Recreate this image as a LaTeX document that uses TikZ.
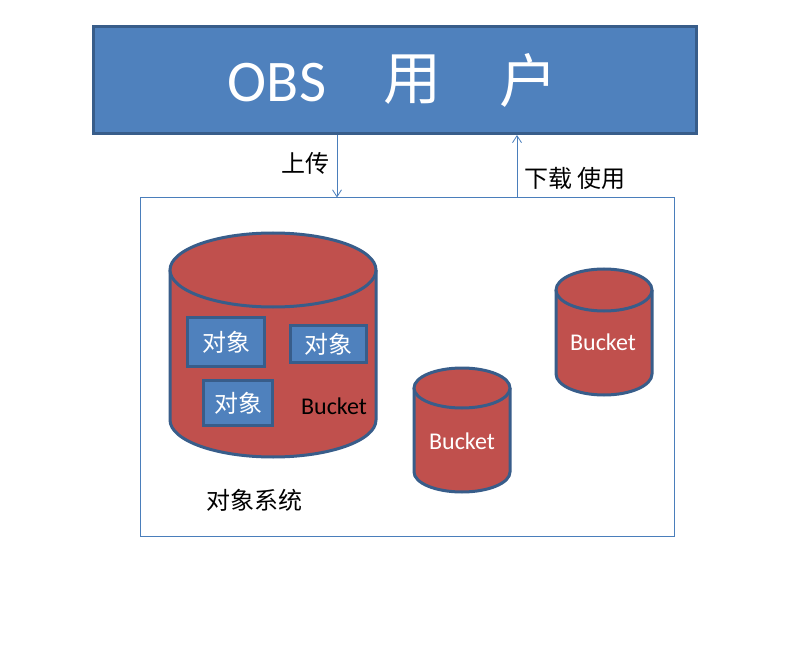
\documentclass[tikz,border=0pt]{standalone}
\usepackage{fontspec}
\setmainfont{Carlito}
\newfontfamily\cjk{Noto Sans CJK SC}
\usetikzlibrary{arrows.meta}
\definecolor{bluefill}{HTML}{4F81BD}
\definecolor{blueedge}{HTML}{385D8A}
\definecolor{redfill}{HTML}{C0504D}
\definecolor{arrowblue}{HTML}{4A7EBB}
\tikzset{
  titlebox/.style={draw=blueedge, fill=bluefill, line width=3pt, minimum width=603pt, minimum height=107pt, inner sep=0pt},
  sysbox/.style={draw=arrowblue, line width=1pt, minimum width=534pt, minimum height=338pt, inner sep=0pt},
  objbox/.style={draw=blueedge, fill=bluefill, line width=3pt, inner sep=0pt, text=white, font=\cjk\fontsize{24}{26}\selectfont},
  titletext/.style={text=white, inner sep=0pt},
  lbl/.style={inner sep=0pt, font=\cjk\fontsize{24}{26}\selectfont},
  bucket/.style={inner sep=0pt, font=\fontsize{24}{26}\selectfont},
  cyl/.style={draw=blueedge, fill=redfill, line width=3pt},
  flow/.style={draw=arrowblue, line width=0.8pt, -{Straight Barb[length=7pt,width=9pt]}}
}
\newcommand{\cylinder}[5]{% cx, rx, ytop, ybot, ry
  \filldraw[cyl] (#1-#2,#3) -- (#1-#2,#4) arc[start angle=180, end angle=360, x radius=#2pt, y radius=#5pt] -- (#1+#2,#3);
  \filldraw[cyl] (#1,#3) ellipse [x radius=#2pt, y radius=#5pt];
}
\begin{document}
\begin{tikzpicture}[x=1pt, y=-1pt]
\useasboundingbox (0,0) rectangle (806,655);
\fill[white] (0,0) rectangle (806,655);

\node[titlebox] (title) at (395,80) {};
\node[titletext, font=\fontsize{59}{60}\selectfont] (obs) at (277,83) {OBS};
\node[titletext, font=\cjk\fontsize{58}{60}\selectfont] (yong) at (412,80) {用};
\node[titletext, font=\cjk\fontsize{58}{60}\selectfont] (hu) at (528,80) {户};

\node[sysbox] (sys) at (407,367) {};

\coordinate (up) at (337,0);
\coordinate (down) at (517,0);
\draw[flow] (title.south -| up) -- (sys.north -| up);
\draw[flow] (sys.north -| down) -- (title.south -| down);
\node[lbl] (upl) at (305,163) {上传};
\node[lbl] (downl) at (575,178) {下载 使用};

\cylinder{273}{103}{270}{420}{37}
\cylinder{462}{48}{388}{472}{20}
\cylinder{604}{48}{290}{374}{21}

\node[objbox, minimum width=77pt, minimum height=49pt] (o1) at (226,342) {对象};
\node[objbox, minimum width=76pt, minimum height=37pt] (o2) at (328.5,344) {对象};
\node[objbox, minimum width=69pt, minimum height=45pt] (o3) at (238,403) {对象};

\node[bucket] (b1) at (334,406) {Bucket};
\node[bucket, text=white] (b2) at (462,441) {Bucket};
\node[bucket, text=white] (b3) at (603,342) {Bucket};

\node[lbl] (syslabel) at (254,500) {对象系统};
\end{tikzpicture}
\end{document}
